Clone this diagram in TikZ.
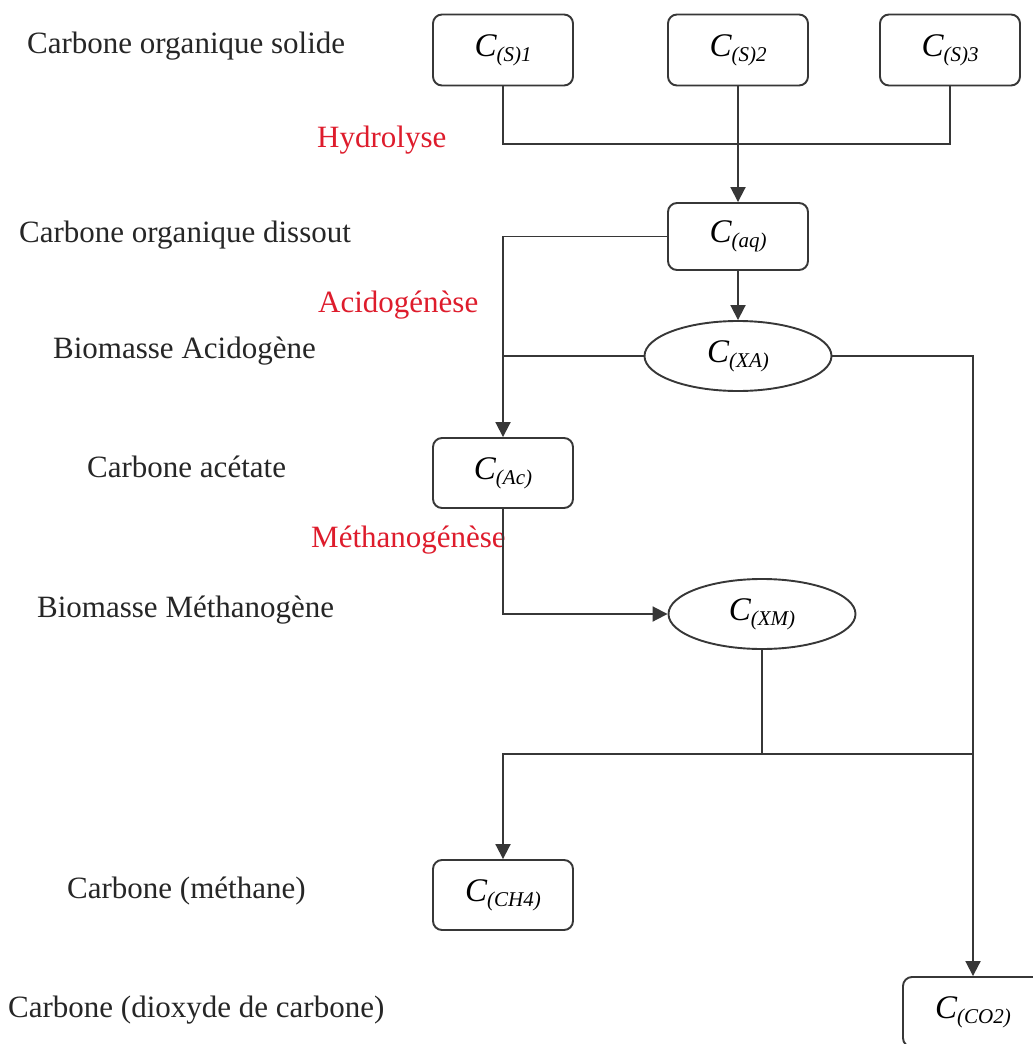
\documentclass[tikz,border=0pt]{standalone}
\usepackage{fontspec}
\setmainfont{Liberation Serif}
\usetikzlibrary{arrows.meta,shapes.geometric}
\definecolor{lred}{RGB}{222,28,44}
\definecolor{lgray}{RGB}{55,55,55}
\newcommand\Cname[1]{{\fontsize{33}{33}\selectfont\itshape C\raisebox{-5pt}{\fontsize{21}{21}\selectfont #1}}}
\begin{document}
\begin{tikzpicture}[x=1pt,y=-1pt,
  box/.style={draw=lgray, line width=1.9pt, rounded corners=9pt, minimum width=140pt, minimum height=70pt, inner sep=0pt},
  ell/.style={draw=lgray, ellipse, line width=1.9pt, minimum width=187pt, minimum height=70pt, inner sep=0pt},
  lab/.style={anchor=base west, inner sep=0pt, font=\fontsize{31}{31}\selectfont, text=black!85},
  rlab/.style={lab, text=lred},
  con/.style={draw=lgray, line width=1.9pt},
  arr/.style={con, -{Triangle[width=15pt,length=15pt]}}]
\useasboundingbox (0,0) rectangle (1033,1044);
\fill[white] (0,0) rectangle (1033,1044);
% nodes
\node[box, minimum height=71pt] (s1) at (503,50) {\Cname{(S)1}};
\node[box, minimum height=71pt] (s2) at (738,50) {\Cname{(S)2}};
\node[box, minimum height=71pt] (s3) at (950,50) {\Cname{(S)3}};
\node[box, minimum height=67pt] (aq) at (738,236.5) {\Cname{(aq)}};
\node[ell] (XA) at (738,356) {\Cname{(XA)}};
\node[box] (Ac) at (503,473) {\Cname{(Ac)}};
\node[ell] (XM) at (762,614) {\Cname{(XM)}};
\node[box] (CH4) at (503,895) {\Cname{(CH4)}};
\node[box] (CO2) at (973,1012) {\Cname{(CO2)}};
% labels
\node[lab] (l1) at (27,53) {Carbone organique solide};
\node[rlab] (r1) at (317,147) {Hydrolyse};
\node[lab] (l2) at (19,242) {Carbone organique dissout};
\node[rlab] (r2) at (318,312) {Acidogénèse};
\node[lab] (l3) at (53,358) {Biomasse Acidogène};
\node[lab] (l4) at (87,477) {Carbone acétate};
\node[rlab] (r3) at (311,547) {Méthanogénèse};
\node[lab] (l5) at (37,617) {Biomasse Méthanogène};
\node[lab] (l6) at (67,898) {Carbone (méthane)};
\node[lab] (l7) at (8,1017) {Carbone (dioxyde de carbone)};
% junctions
\coordinate (j1) at (738,144);
\coordinate (j2) at (762,754);
% connectors
\draw[con] (s1.south) |- (j1) -| (s3.south);
\draw[arr] (s2.south) -- (aq.north);
\draw[arr] (aq.west) -| (Ac.north);
\draw[arr] (aq.south) -- (XA.north);
\draw[con] (XA.west) -- (XA.west -| Ac.north);
\draw[arr] (XA.east) -| (CO2.north);
\draw[arr] (Ac.south) |- (XM.west);
\draw[con] (XM.south) -- (j2);
\draw[arr] (j2) -| (CH4.north);
\draw[con] (j2) -- (j2 -| CO2.north);
\end{tikzpicture}
\end{document}
